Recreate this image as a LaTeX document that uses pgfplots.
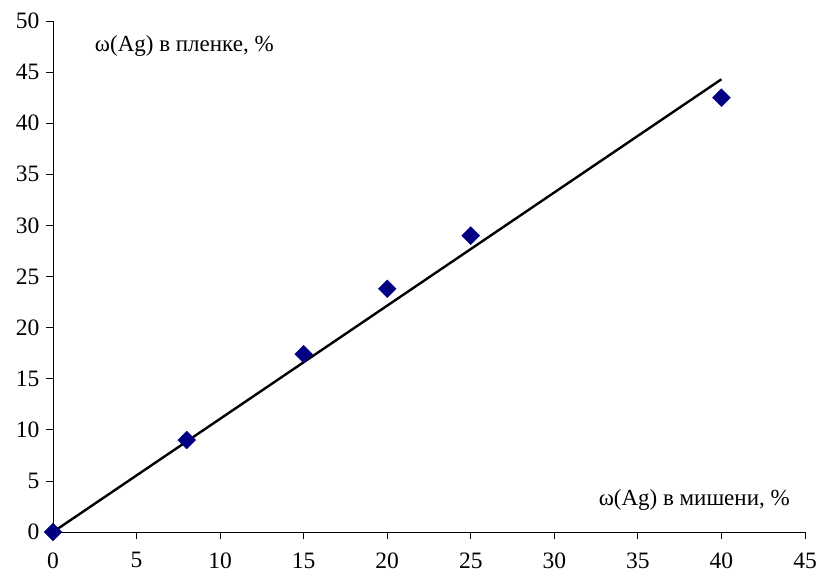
\documentclass[border=0pt]{standalone}
\usepackage{fontspec}
\setmainfont{Liberation Serif}
\usepackage{pgfplots}
\pgfplotsset{compat=1.18}
\definecolor{navy}{RGB}{0,0,128}
\begin{document}
\begin{tikzpicture}
\useasboundingbox (-53pt,-44pt) rectangle (764pt,532pt);
\begin{axis}[
  at={(0,0)}, anchor=south west,
  scale only axis, width=752pt, height=511pt,
  xmin=0, xmax=45, ymin=0, ymax=50,
  xtick={0,5,...,45}, ytick={0,5,...,50},
  axis x line=bottom, axis y line=left,
  axis line style={-, line width=0.8pt},
  tick align=outside, major tick length=7pt,
  tick style={black, line width=0.8pt},
  /pgf/number format/assume math mode=true,
  ticklabel style={font=\fontsize{23.5}{27}\selectfont},
  xticklabel style={yshift=-10pt},
  yticklabel style={xshift=-3pt},
  clip=false,
]
\addplot[black, line width=2.4pt] coordinates {(0,0) (40,44.3)};
\addplot[only marks, mark=square*, mark size=6.3pt, mark options={rotate=45}, color=navy] coordinates {
(0,0) (8,9.0) (15,17.4) (20,23.8) (25,29.0) (40,42.5)};
\node[anchor=west, font=\fontsize{23}{27}\selectfont, inner sep=0pt] at (axis cs:2.5,47.6) {ω(Ag) в пленке, \%};
\node[anchor=east, font=\fontsize{23}{27}\selectfont, inner sep=0pt] at (axis cs:44.1,3.1) {ω(Ag) в мишени, \%};
\end{axis}
\end{tikzpicture}
\end{document}
